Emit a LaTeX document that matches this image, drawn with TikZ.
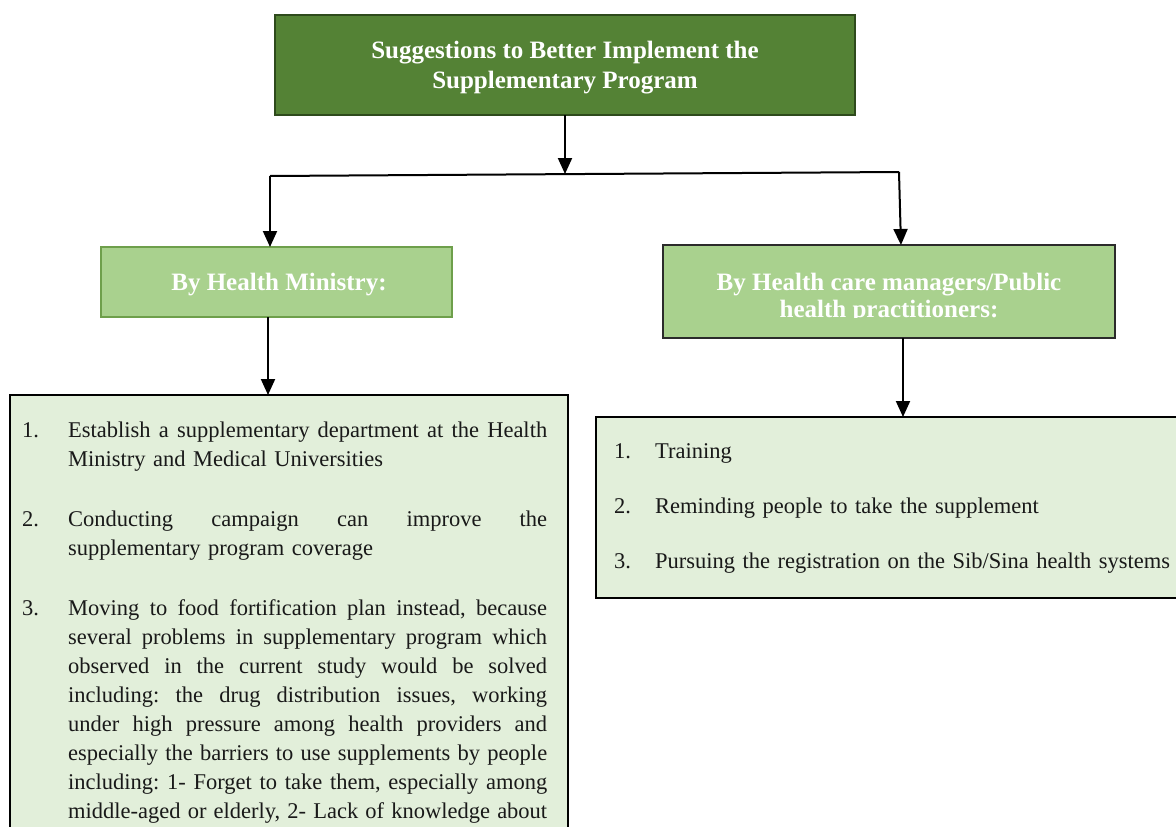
\documentclass[tikz,border=0pt]{standalone}
\usepackage{fontspec}
\setmainfont{Liberation Serif}
\usetikzlibrary{arrows.meta}
\definecolor{topfill}{HTML}{548235}
\definecolor{topdraw}{HTML}{2E4A1C}
\definecolor{midfill}{HTML}{A9D18E}
\definecolor{midleftdraw}{HTML}{6E9F4B}
\definecolor{midrightdraw}{HTML}{2B2B2B}
\definecolor{lightfill}{HTML}{E2EFDA}
\newcommand{\jline}[1]{\hbox to 479pt{\frenchspacing\spaceskip=\fontdimen2\font plus 1fil\relax #1}}
\tikzset{
  conn/.style={line width=2pt, draw=black},
  arr/.style={conn, -{Triangle[length=16pt,width=14pt]}},
  topbox/.style={draw=topdraw, line width=2pt, fill=topfill},
  midbox/.style={fill=midfill, line width=1.5pt},
  bigbox/.style={draw=black, line width=2pt, fill=lightfill},
  headtext/.style={text=white, font=\bfseries\fontsize{25}{30}\selectfont, align=center, inner sep=0pt},
  bodytext/.style={text=black!90, inner sep=0pt, align=left}
}
\begin{document}
\begin{tikzpicture}[x=1pt,y=-1pt]
\useasboundingbox (0,0) rectangle (1176,827);
\clip (0,0) rectangle (1176,827);
\fill[white] (0,0) rectangle (1176,827);

% top box
\path[topbox] (275,15) rectangle (855,115);
\node[headtext] (top) at (565,68) {Suggestions to Better Implement the\\Supplementary Program};
\coordinate (topb) at (565,115);
\coordinate (split) at (565,174);
\coordinate (lsplit) at (270,176);
\coordinate (rsplit) at (899,172);

% mid boxes
\path[midbox, draw=midleftdraw] (101,247) rectangle (452,317);
\node[headtext] (hm) at (279,285) {By Health Ministry:};
\coordinate (hmtop) at (270,247);
\coordinate (hmbot) at (268,317);

\path[midbox, draw=midrightdraw, line width=2pt] (663,245) rectangle (1115,338);
\begin{scope}
\clip (663,245) rectangle (1115,317);
\node[headtext, anchor=north, font=\bfseries\fontsize{25}{27}\selectfont] (hc) at (889,273) {By Health care managers/Public\\health practitioners:};
\end{scope}
\coordinate (hctop) at (901,245);
\coordinate (hcbot) at (903,338);

% big boxes
\path[bigbox] (10,395) rectangle (568,860);
\coordinate (lbtop) at (268,395);
\path[bigbox] (596,417) rectangle (1200,598);
\coordinate (rbtop) at (903,417);

% connectors
\draw[arr] (topb) -- (split);
\draw[conn] (lsplit) -- (rsplit);
\draw[arr] (lsplit) -- (hmtop);
\draw[arr] (rsplit) -- (hctop);
\draw[arr] (hmbot) -- (lbtop);
\draw[arr] (hcbot) -- (rbtop);

% left list
\node[bodytext, anchor=north west, text width=540pt, font=\fontsize{22.5}{29}\selectfont] (llist) at (22,422) {%
\makebox[46pt][l]{1.}\jline{Establish a supplementary department at the Health}\\
\hspace*{46pt}Ministry and Medical Universities\\[31pt]
\makebox[46pt][l]{2.}\jline{Conducting campaign can improve the}\\
\hspace*{46pt}supplementary program coverage\\[31pt]
\makebox[46pt][l]{3.}\jline{Moving to food fortification plan instead, because}\\
\hspace*{46pt}\jline{several problems in supplementary program which}\\
\hspace*{46pt}\jline{observed in the current study would be solved}\\
\hspace*{46pt}\jline{including: the drug distribution issues, working}\\
\hspace*{46pt}\jline{under high pressure among health providers and}\\
\hspace*{46pt}\jline{especially the barriers to use supplements by people}\\
\hspace*{46pt}\jline{including: 1- Forget to take them, especially among}\\
\hspace*{46pt}\jline{middle-aged or elderly, 2- Lack of knowledge about}};

% right list
\node[bodytext, anchor=north west, text width=580pt, font=\fontsize{22.5}{55}\selectfont] (rlist) at (614,443) {%
\makebox[41pt][l]{1.}Training\\
\makebox[41pt][l]{2.}Reminding people to take the supplement\\
\makebox[41pt][l]{3.}Pursuing the registration on the Sib/Sina health systems};
\end{tikzpicture}
\end{document}
